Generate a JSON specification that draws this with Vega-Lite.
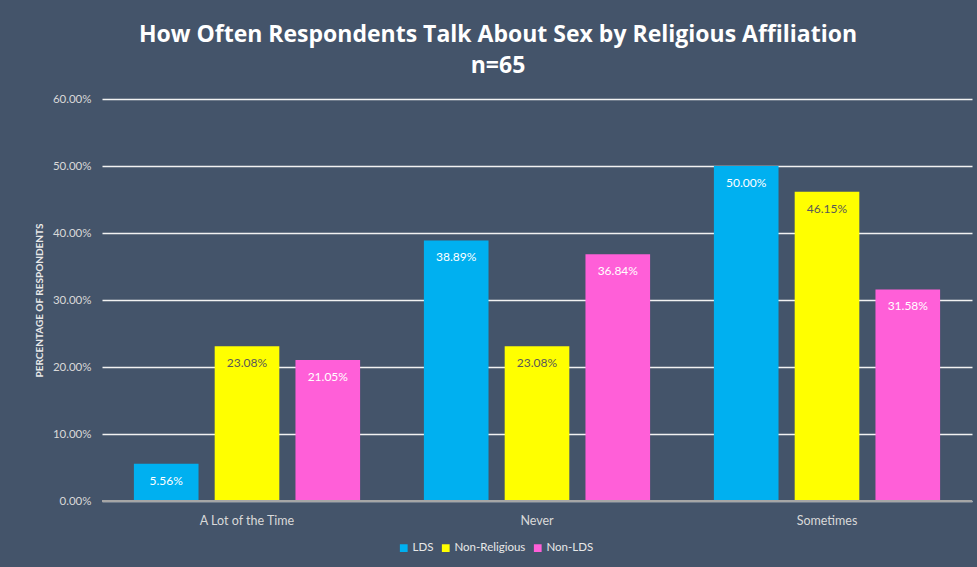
{
  "$schema": "https://vega.github.io/schema/vega-lite/v6.json",
  "autosize": {"type": "none"},
  "width": 870,
  "height": 402,
  "padding": {"left": 102, "top": 99, "right": 5, "bottom": 66},
  "background": "#44546A",
  "title": {
    "text": ["How Often Respondents Talk About Sex by Religious Affiliation", "n=65"],
    "font": "Open Sans",
    "fontSize": 23,
    "fontWeight": "bold",
    "color": "white",
    "anchor": "middle",
    "dx": -39,
    "offset": 15,
    "lineHeight": 31
  },
  "data": {
    "values": [
      {"freq": "A Lot of the Time", "group": "LDS", "pct": 0.0556},
      {"freq": "A Lot of the Time", "group": "Non-Religious", "pct": 0.2308},
      {"freq": "A Lot of the Time", "group": "Non-LDS", "pct": 0.2105},
      {"freq": "Never", "group": "LDS", "pct": 0.3889},
      {"freq": "Never", "group": "Non-Religious", "pct": 0.2308},
      {"freq": "Never", "group": "Non-LDS", "pct": 0.3684},
      {"freq": "Sometimes", "group": "LDS", "pct": 0.5},
      {"freq": "Sometimes", "group": "Non-Religious", "pct": 0.4615},
      {"freq": "Sometimes", "group": "Non-LDS", "pct": 0.3158}
    ]
  },
  "encoding": {
    "y": {
      "field": "pct", "type": "quantitative",
      "scale": {"domain": [0, 0.6]},
      "axis": {
        "title": "PERCENTAGE OF RESPONDENTS", "format": ".2%", "values": [0, 0.1, 0.2, 0.3, 0.4, 0.5, 0.6],
        "ticks": false, "domain": false, "labelPadding": 11,
        "labelColor": "#D9D9D9", "labelFont": "Lato", "labelFontSize": 11.5,
        "titleColor": "#E8E8E8", "titleFont": "Lato", "titleFontSize": 10, "titleFontWeight": "bold", "titlePadding": 8,
        "grid": true, "gridColor": "#F2F2F2", "gridWidth": 1.5
      }
    }
  },
  "layer": [
    {
      "mark": {"type": "bar"},
      "encoding": {
        "x": {
          "field": "freq", "type": "nominal",
          "scale": {"paddingInner": 0.22, "paddingOuter": 0.11},
          "axis": {
            "title": null, "labelAngle": 0, "ticks": false, "domain": false,
            "labelColor": "#D9D9D9", "labelFont": "Lato", "labelFontSize": 12.5, "labelPadding": 13
          }
        },
        "xOffset": {"field": "group", "type": "nominal", "sort": ["LDS", "Non-Religious", "Non-LDS"], "scale": {"paddingInner": 0.2}},
        "color": {
          "field": "group", "type": "nominal",
          "sort": ["LDS", "Non-Religious", "Non-LDS"],
          "scale": {"domain": ["LDS", "Non-Religious", "Non-LDS"], "range": ["#00B0F0", "#FFFF00", "#FF5FD8"]},
          "legend": {
            "title": null, "orient": "none", "direction": "horizontal",
            "legendX": 296, "legendY": 443,
            "symbolType": "square", "symbolSize": 60, "symbolStrokeWidth": 0,
            "labelColor": "#E8E8E8", "labelFont": "Lato", "labelFontSize": 11.5, "columnPadding": 6, "labelOffset": 3
          }
        }
      }
    },
    {
      "mark": {"type": "text", "baseline": "middle", "dy": 17, "font": "Lato", "fontSize": 12},
      "encoding": {
        "x": {"field": "freq", "type": "nominal"},
        "xOffset": {"field": "group", "type": "nominal", "sort": ["LDS", "Non-Religious", "Non-LDS"]},
        "text": {"field": "pct", "type": "quantitative", "format": ".2%"},
        "color": {"condition": {"test": "datum.group === 'Non-Religious'", "value": "#595959"}, "value": "white"}
      }
    },
    {
      "mark": {"type": "rule", "color": "#A6A6A6", "strokeWidth": 2},
      "data": {"values": [{"z": 0}]},
      "encoding": {"y": {"field": "z", "type": "quantitative"}}
    }
  ],
  "config": {"view": {"stroke": null}}
}
